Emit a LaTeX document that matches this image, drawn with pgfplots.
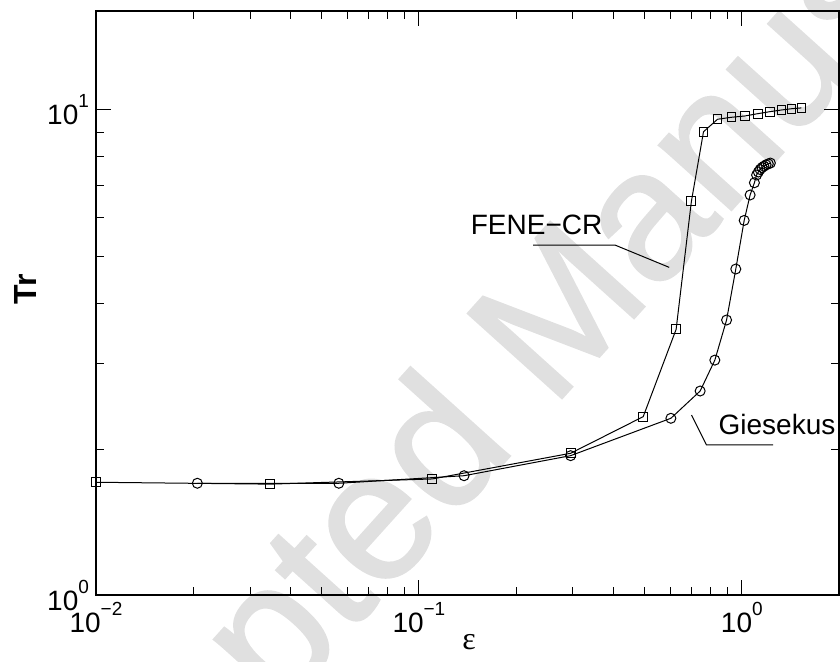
\documentclass[border=0pt]{standalone}
\usepackage{pgfplots}
\pgfplotsset{compat=1.18}
\usepackage{fontspec}
\setmainfont{Liberation Sans}
\newfontfamily\greekserif{Liberation Serif}
\newfontfamily\markfont[FakeBold=1.2]{Liberation Sans}
% power-of-ten tick label with a raised exponent
\newcommand{\tenpow}[1]{10\raisebox{8.5pt}{\fontsize{9.5}{10}\selectfont #1}}

\begin{document}
\begin{tikzpicture}
% watermark behind the plot
\node[rotate=48, text=black!12, font=\markfont\fontsize{92}{104}\selectfont, inner sep=0pt]
  at (224pt,124pt) {Accepted Manuscript};

\begin{axis}[
  at={(0pt,0pt)}, anchor=south west,
  scale only axis, width=371.5pt, height=292pt,
  xmode=log, ymode=log,
  xmin=0.01, xmax=2, ymin=1, ymax=16,
  axis line style={line width=1pt},
  tick align=inside,
  major tick length=7.5pt, minor tick length=4pt,
  every tick/.style={black, line width=0.5pt},
  xtick={0.01,0.1,1},
  xticklabels={\tenpow{−2},\tenpow{−1},\tenpow{0}},
  ytick={1,10},
  yticklabels={\tenpow{0},\tenpow{1}},
  minor xtick={0.02,0.03,0.04,0.05,0.06,0.07,0.08,0.09,0.2,0.3,0.4,0.5,0.6,0.7,0.8,0.9},
  minor ytick={2,3,4,5,6,7,8,9},
  ticklabel style={font=\fontsize{14}{16}\selectfont},
  clip=false,
]

% FENE-CR model
\addplot[black, line width=0.5pt, mark=square, mark size=2.2pt,
  mark options={line width=0.5pt}] coordinates {
  (0.0100,1.708) (0.0346,1.693) (0.110,1.735) (0.295,1.960)
  (0.495,2.332) (0.626,3.530) (0.698,6.480) (0.761,9.020)
  (0.841,9.570) (0.929,9.660) (1.022,9.720) (1.123,9.830)
  (1.221,9.920) (1.327,10.00) (1.425,10.06) (1.530,10.10)
};

% Giesekus model
\addplot[black, line width=0.5pt, mark=o, mark size=2.5pt,
  mark options={line width=0.5pt}] coordinates {
  (0.0206,1.700) (0.0565,1.700) (0.138,1.762) (0.295,1.938)
  (0.603,2.314) (0.743,2.634) (0.825,3.050) (0.897,3.690)
  (0.958,4.700) (1.017,5.920) (1.061,6.680) (1.094,7.080)
  (1.111,7.345) (1.125,7.450) (1.139,7.540) (1.155,7.610)
  (1.171,7.660) (1.189,7.710) (1.208,7.745) (1.226,7.775)
};

% curve labels with leader lines
\node[anchor=base, font=\fontsize{14}{16}\selectfont, inner sep=0pt]
  at (axis cs:0.2314,5.525) {FENE−CR};
\draw[line width=0.5pt] (axis cs:0.2259,5.268) -- (axis cs:0.4045,5.268) -- (axis cs:0.5957,4.738);

\node[anchor=base, font=\fontsize{14}{16}\selectfont, inner sep=0pt]
  at (axis cs:1.285,2.138) {Giesekus};
\draw[line width=0.5pt] (axis cs:0.6988,2.350) -- (axis cs:0.7775,2.039) -- (axis cs:1.250,2.039);
\end{axis}

% axis titles
\node[rotate=90, font=\bfseries\fontsize{16}{19}\selectfont] at (-35.5pt,153pt) {Tr};
\node[anchor=base, font=\greekserif\fontsize{16}{19}\selectfont] at (186.5pt,-27pt) {ε};

\pgfresetboundingbox
\path[use as bounding box] (-48pt,-33pt) rectangle (372pt,297.5pt);
\end{tikzpicture}
\end{document}
